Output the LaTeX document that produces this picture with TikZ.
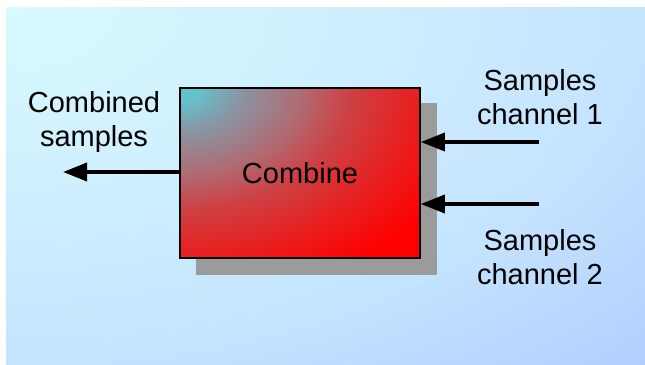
\documentclass[tikz,border=0pt]{standalone}
\usepackage{fontspec}
\setmainfont{Liberation Sans}
\usetikzlibrary{arrows.meta,calc}

% colours
\definecolor{bgA}{RGB}{216,250,253}
\definecolor{bgM}{RGB}{208,240,255}
\definecolor{bgN}{RGB}{196,227,255}
\definecolor{bgB}{RGB}{176,206,255}
\definecolor{shadowgray}{RGB}{155,155,155}
\definecolor{cA}{RGB}{98,196,206}
\definecolor{cB}{RGB}{135,152,166}
\definecolor{cC}{RGB}{176,106,114}
\definecolor{cD}{RGB}{205,65,68}
\definecolor{cE}{RGB}{235,28,28}
\definecolor{cF}{RGB}{255,0,0}

% backdrop: pale cyan in the upper left, deepening to blue in the lower right
\pgfdeclareradialshading{backshade}{\pgfpoint{0bp}{0bp}}{%
  color(0bp)=(bgA); color(8bp)=(bgM); color(16.7bp)=(bgN);
  color(23.6bp)=(bgB); color(50bp)=(bgB)}

% block fill: radial blend spreading from the upper left corner
\pgfdeclareradialshading{combshade}{\pgfpoint{0bp}{0bp}}{%
  color(0bp)=(cA); color(1.2bp)=(cA); color(4bp)=(cB); color(8.5bp)=(cC);
  color(11.8bp)=(cD); color(16.7bp)=(cE); color(21bp)=(cF); color(50bp)=(cF)}

\tikzset{
  lbl/.style={font=\fontsize{29}{34}\selectfont, align=center, inner sep=0pt},
  blockbox/.style={draw=black, line width=1.6pt, minimum width=240pt,
    minimum height=170pt, inner sep=0pt, font=\fontsize{29}{34}\selectfont,
    path picture={\shade[shading=combshade]
      (path picture bounding box.north west) ellipse [x radius=360pt, y radius=255pt];}},
  shadowbox/.style={fill=shadowgray, minimum width=241pt, minimum height=172pt,
    inner sep=0pt},
  flow/.style={line width=3.5pt, -{Triangle[length=24pt,width=18pt]}},
}

\begin{document}
\begin{tikzpicture}[x=1pt,y=-1pt]
  \useasboundingbox (0,0) rectangle (645,364);
  \fill[white] (0,0) rectangle (645,364);
  \begin{scope}
    \clip (6,7) rectangle (645,364);
    \shade[shading=backshade] (6,7) ellipse [x radius=958pt, y radius=536pt];
  \end{scope}

  % block with drop shadow
  \node[shadowbox] (shadow) at (316.5,189) {};
  \node[blockbox] (comb) at (300,173) {Combine};

  % labels
  \node[lbl] (outlbl) at (94,122) {Combined\\samples};
  \node[lbl] (in1lbl) at (540,97) {Samples\\channel 1};
  \node[lbl] (in2lbl) at (540,257) {Samples\\channel 2};

  % signal flow
  \coordinate (outend) at (63,172);
  \coordinate (in1start) at (539,142);
  \coordinate (in2start) at (539,204);
  \draw[flow] (comb.west |- outend) -- (outend);
  \draw[flow] (in1start) -- (comb.east |- in1start);
  \draw[flow] (in2start) -- (comb.east |- in2start);
\end{tikzpicture}
\end{document}
